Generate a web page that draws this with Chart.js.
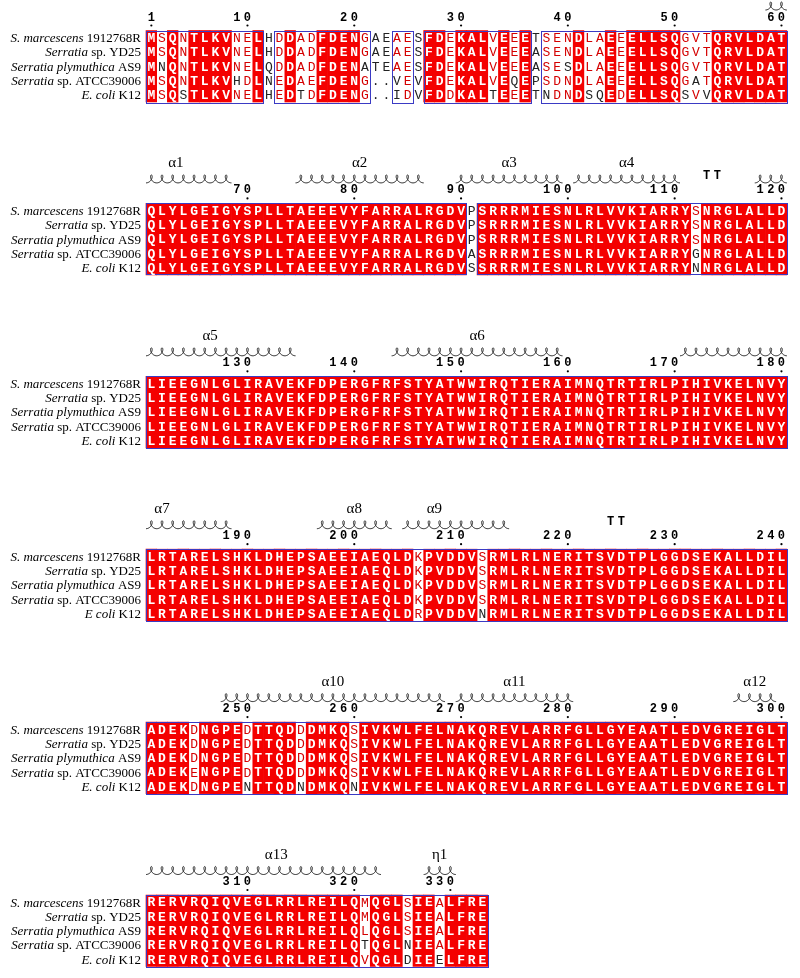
<!DOCTYPE html>
<html>
<head>
<meta charset="utf-8">
<script src="https://cdn.jsdelivr.net/npm/chart.js@4.4.1/dist/chart.umd.min.js"></script>
<style>
  html, body { margin: 0; padding: 0; background: #fff; }
  canvas { display: block; }
</style>
</head>
<body>
<canvas id="aln" width="800" height="978"></canvas>
<script>
// Sequence names (italic part + plain part)
const nameItalic = ['S. marcescens', 'Serratia', 'Serratia plymuthica', 'Serratia', 'E. coli'];
const namePlain = [' 1912768R', ' sp. YD25', ' AS9', ' sp. ATCC39006', ' K12'];

// First residue number of each alignment block
const blockStarts = [1, 61, 121, 181, 241, 301];

// Aligned sequences, one array per block (same row order as the names)
const block1 = [
  'MSQNTLKVNELHDDADFDENGAEAESFDEKALVEEETSENDLAEEELLSQGVTQRVLDAT',
  'MSQNTLKVNELHDDADFDENGAEAESFDEKALVEEEASENDLAEEELLSQGVTQRVLDAT',
  'MNQNTLKVNELQDDADFDENATEAESFDEKALVEEEASESDLAEEELLSQGVTQRVLDAT',
  'MSQNTLKVHDLNEDAEFDENG..VEVFDEKALVEQEPSDNDLAEEELLSQGATQRVLDAT',
  'MSQSTLKVNELHEDTDFDENG..IDVFDDKALTEEETNDNDSQEDELLSQSVVQRVLDAT'
];
const block2 = [
  'QLYLGEIGYSPLLTAEEEVYFARRALRGDVPSRRRMIESNLRLVVKIARRYSNRGLALLD',
  'QLYLGEIGYSPLLTAEEEVYFARRALRGDVPSRRRMIESNLRLVVKIARRYSNRGLALLD',
  'QLYLGEIGYSPLLTAEEEVYFARRALRGDVPSRRRMIESNLRLVVKIARRYSNRGLALLD',
  'QLYLGEIGYSPLLTAEEEVYFARRALRGDVASRRRMIESNLRLVVKIARRYGNRGLALLD',
  'QLYLGEIGYSPLLTAEEEVYFARRALRGDVSSRRRMIESNLRLVVKIARRYNNRGLALLD'
];
const block3 = [
  'LIEEGNLGLIRAVEKFDPERGFRFSTYATWWIRQTIERAIMNQTRTIRLPIHIVKELNVY',
  'LIEEGNLGLIRAVEKFDPERGFRFSTYATWWIRQTIERAIMNQTRTIRLPIHIVKELNVY',
  'LIEEGNLGLIRAVEKFDPERGFRFSTYATWWIRQTIERAIMNQTRTIRLPIHIVKELNVY',
  'LIEEGNLGLIRAVEKFDPERGFRFSTYATWWIRQTIERAIMNQTRTIRLPIHIVKELNVY',
  'LIEEGNLGLIRAVEKFDPERGFRFSTYATWWIRQTIERAIMNQTRTIRLPIHIVKELNVY'
];
const block4 = [
  'LRTARELSHKLDHEPSAEEIAEQLDKPVDDVSRMLRLNERITSVDTPLGGDSEKALLDIL',
  'LRTARELSHKLDHEPSAEEIAEQLDKPVDDVSRMLRLNERITSVDTPLGGDSEKALLDIL',
  'LRTARELSHKLDHEPSAEEIAEQLDKPVDDVSRMLRLNERITSVDTPLGGDSEKALLDIL',
  'LRTARELSHKLDHEPSAEEIAEQLDKPVDDVSRMLRLNERITSVDTPLGGDSEKALLDIL',
  'LRTARELSHKLDHEPSAEEIAEQLDRPVDDVNRMLRLNERITSVDTPLGGDSEKALLDIL'
];
const block5 = [
  'ADEKDNGPEDTTQDDDMKQSIVKWLFELNAKQREVLARRFGLLGYEAATLEDVGREIGLT',
  'ADEKDNGPEDTTQDDDMKQSIVKWLFELNAKQREVLARRFGLLGYEAATLEDVGREIGLT',
  'ADEKDNGPEDTTQDDDMKQSIVKWLFELNAKQREVLARRFGLLGYEAATLEDVGREIGLT',
  'ADEKENGPEDTTQDDDMKQSIVKWLFELNAKQREVLARRFGLLGYEAATLEDVGREIGLT',
  'ADEKDNGPENTTQDNDMKQNIVKWLFELNAKQREVLARRFGLLGYEAATLEDVGREIGLT'
];
const block6 = [
  'RERVRQIQVEGLRRLREILQMQGLSIEALFRE',
  'RERVRQIQVEGLRRLREILQMQGLSIEALFRE',
  'RERVRQIQVEGLRRLREILQLQGLSIEALFRE',
  'RERVRQIQVEGLRRLREILQTQGLNIEALFRE',
  'RERVRQIQVEGLRRLREILQVQGLDIEELFRE'
];
const blocks = [block1, block2, block3, block4, block5, block6];

// Residue numbers of columns that are outside the blue similarity frames
const unframedCols = [12, 22, 23, 26, 37, 91];

// Residue groups counted as similar to the column's main residue (red letters)
const similarGroups = ['DE', 'ILVM', 'KR', 'NQ', 'ST', 'FY'];

// Ruler: printed numbers and the alignment column each one stands over
const tickLabels = [1, 10, 20, 30, 40, 50, 60, 70, 80, 90, 100, 110, 120,
  130, 140, 150, 160, 170, 180, 190, 200, 210, 220, 230, 240,
  250, 260, 270, 280, 290, 300, 310, 320, 330];
const tickColumns = [1, 10, 20, 30, 40, 50, 60, 70, 80, 90, 100, 110, 120,
  130, 140, 150, 160, 170, 180, 190, 200, 210, 220, 230, 240,
  250, 260, 270, 280, 290, 300, 310, 320, 329];

// Secondary structure: helices [from, to], labels [text, column], turns [from, to]
const helices = [[59, 68], [75, 86], [90, 99], [101, 110], [118, 134], [144, 159],
  [171, 188], [197, 203], [205, 214], [248, 268], [270, 280], [296, 299],
  [301, 322], [327, 329]];
const helixLabels = [['α1', 63.3], ['α2', 80.5], ['α3', 94.5], ['α4', 105.5],
  ['α5', 126.5], ['α6', 151.5], ['α7', 182], ['α8', 200], ['α9', 207.5],
  ['α10', 258], ['α11', 275], ['α12', 297.5], ['α13', 312.7], ['η1', 328]];
const turns = [[113, 114], [224, 225]];

// Layout (pixels on the y scale)
const TOP0 = 30.5, STEP = 172.9, ROW_H = 14.3;
const rowY = (b, r) => TOP0 + b * STEP + r * ROW_H;

function blockOf(n) {
  for (let i = blockStarts.length - 1; i >= 0; i--) if (n >= blockStarts[i]) return i;
  return 0;
}
function isIdentical(b, c) {
  const rows = blocks[b];
  const ch = rows[0][c - 1];
  return ch !== '.' && rows.every(s => s[c - 1] === ch);
}
function isFramed(b, c) {
  return !unframedCols.includes(blockStarts[b] + c - 1);
}
function mainResidue(b, c) {
  const count = {};
  blocks[b].forEach(s => { const ch = s[c - 1]; count[ch] = (count[ch] || 0) + 1; });
  return Object.keys(count).sort((p, q) => count[q] - count[p])[0];
}
function isSimilar(a, m) {
  return a === m || similarGroups.some(g => g.includes(a) && g.includes(m));
}

// Red identity cells as floating bars
const idCells = [];
blocks.forEach((rows, b) => {
  for (let c = 1; c <= rows[0].length; c++) {
    if (isIdentical(b, c)) idCells.push({ x: c, y: [rowY(b, 0), rowY(b, 5)] });
  }
});

const RED = '#f40000';
const BLUE = '#3a3ac4';

const alignmentPlugin = {
  id: 'alignment',
  afterDatasetsDraw(chart) {
    const { ctx, scales: { x, y } } = chart;
    const colW = x.getPixelForValue(1) - x.getPixelForValue(0);
    ctx.save();

    blocks.forEach((rows, b) => {
      const len = rows[0].length;
      const top = y.getPixelForValue(rowY(b, 0));
      const bottom = y.getPixelForValue(rowY(b, 5));

      // blue frames around runs of framed columns
      ctx.strokeStyle = BLUE;
      ctx.lineWidth = 1;
      let c = 1;
      while (c <= len) {
        if (!isFramed(b, c)) { c++; continue; }
        let e = c;
        while (e + 1 <= len && isFramed(b, e + 1)) e++;
        const x0 = x.getPixelForValue(c - 0.5), x1 = x.getPixelForValue(e + 0.5);
        ctx.strokeRect(Math.round(x0) + 0.5, Math.round(top) + 0.5,
          Math.round(x1 - x0), Math.round(bottom - top));
        c = e + 1;
      }

      // residues
      ctx.textAlign = 'center';
      ctx.textBaseline = 'middle';
      rows.forEach((seq, r) => {
        const yc = y.getPixelForValue(rowY(b, r) + ROW_H / 2) + 1;
        for (let k = 1; k <= len; k++) {
          const ch = seq[k - 1];
          const xc = x.getPixelForValue(k);
          if (isIdentical(b, k)) {
            ctx.fillStyle = '#fff';
            ctx.font = 'bold 13px "Liberation Mono"';
          } else if (isFramed(b, k) && ch !== '.' && isSimilar(ch, mainResidue(b, k))) {
            ctx.fillStyle = '#d40000';
            ctx.font = '13px "Liberation Mono"';
          } else {
            ctx.fillStyle = '#222';
            ctx.font = '13px "Liberation Mono"';
          }
          ctx.fillText(ch, xc, yc);
        }

        // sequence name
        const nx = 141;
        const italic = (b === 3 && r === 4) ? 'E coli' : nameItalic[r];
        ctx.textAlign = 'right';
        ctx.fillStyle = '#000';
        ctx.font = '13px "Liberation Serif"';
        const pw = ctx.measureText(namePlain[r]).width;
        ctx.fillText(namePlain[r], nx, yc);
        ctx.font = 'italic 13px "Liberation Serif"';
        ctx.fillText(italic, nx - pw, yc);
        ctx.textAlign = 'center';
      });
    });

    // ruler numbers with dots
    ctx.fillStyle = '#000';
    ctx.textAlign = 'center';
    ctx.textBaseline = 'middle';
    tickLabels.forEach((label, i) => {
      const n = tickColumns[i];
      const b = blockOf(n);
      const col = n - blockStarts[b] + 1;
      const top = y.getPixelForValue(rowY(b, 0));
      const digits = String(label);
      ctx.font = 'bold 12px "Liberation Mono"';
      for (let d = 0; d < digits.length; d++) {
        const xc = x.getPixelForValue(col - (digits.length - 1 - d));
        ctx.fillText(digits[d], xc, top - 13);
      }
      ctx.beginPath();
      ctx.arc(x.getPixelForValue(col), top - 5, 1.1, 0, Math.PI * 2);
      ctx.fill();
    });

    // helices
    ctx.strokeStyle = '#222';
    ctx.lineWidth = 1;
    helices.forEach(([from, to]) => {
      let n = from;
      while (n <= to) {
        const b = blockOf(n);
        const end = Math.min(to, blockStarts[b] + 59);
        const c0 = n - blockStarts[b] + 1, c1 = end - blockStarts[b] + 1;
        const x0 = x.getPixelForValue(c0 - 0.5);
        const base = y.getPixelForValue(rowY(b, 0)) - 20.5;
        const loops = c1 - c0 + 1;
        ctx.beginPath();
        const steps = loops * 36;
        for (let i = 0; i <= steps; i++) {
          const t = i / 36 * 2 * Math.PI;
          const px = x0 + (t / (2 * Math.PI)) * colW + 3.0 * Math.sin(t);
          const py = base - 8 * (1 - Math.cos(t)) / 2;
          if (i === 0) ctx.moveTo(px, py); else ctx.lineTo(px, py);
        }
        ctx.stroke();
        n = end + 1;
      }
    });

    // helix labels
    ctx.font = '15px "Liberation Serif"';
    ctx.textBaseline = 'middle';
    helixLabels.forEach(([txt, pos]) => {
      const b = blockOf(Math.floor(pos));
      const col = pos - blockStarts[b] + 1;
      ctx.fillText(txt, x.getPixelForValue(col), y.getPixelForValue(rowY(b, 0)) - 40);
    });

    // turns
    ctx.font = 'bold 12px "Liberation Mono"';
    turns.forEach(([from, to]) => {
      for (let n = from; n <= to; n++) {
        const b = blockOf(n);
        const col = n - blockStarts[b] + 1;
        ctx.fillText('T', x.getPixelForValue(col), y.getPixelForValue(rowY(b, 0)) - 27);
      }
    });

    ctx.restore();
  }
};

new Chart(document.getElementById('aln'), {
  type: 'bar',
  data: {
    datasets: [{
      label: 'identical',
      data: idCells,
      backgroundColor: RED,
      borderWidth: 0,
      grouped: false,
      barPercentage: 1,
      categoryPercentage: 1
    }]
  },
  options: {
    responsive: false,
    animation: false,
    events: [],
    layout: { padding: 0 },
    plugins: { legend: { display: false }, tooltip: { enabled: false } },
    scales: {
      x: { type: 'linear', offset: false, min: 0.5 - 146 / 10.68, max: 0.5 - 146 / 10.68 + 800 / 10.68, display: false },
      y: { type: 'linear', min: 0, max: 978, reverse: true, display: false }
    }
  },
  plugins: [alignmentPlugin]
});
</script>
</body>
</html>
